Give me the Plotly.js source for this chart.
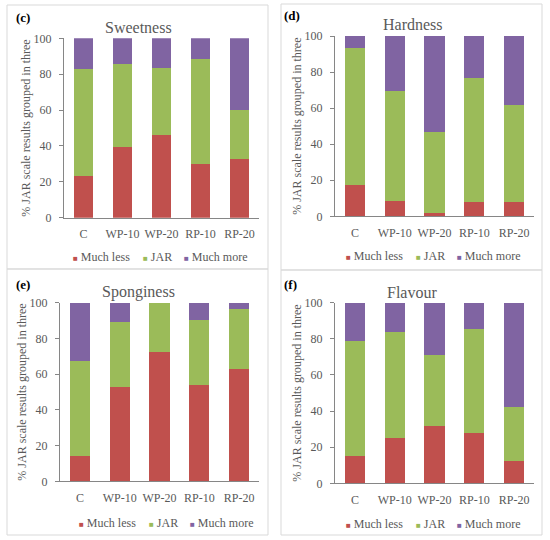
<!DOCTYPE html>
<html>
<head>
<meta charset="utf-8">
<script src="https://cdn.plot.ly/plotly-3.0.1.min.js"></script>
<style>html,body{margin:0;padding:0;background:#fff;}#chart{width:550px;height:540px;}</style>
</head>
<body>
<div id="chart"></div>
<script>
// ---- data ----
const categories = ["C", "WP-10", "WP-20", "RP-10", "RP-20"];
const seriesNames = ["Much less", "JAR", "Much more"];
const panelTitles = ["Sweetness", "Hardness", "Sponginess", "Flavour"];
const panelLabels = ["(c)", "(d)", "(e)", "(f)"];
const yTickValues = [0, 20, 40, 60, 80, 100];

// Sweetness
const sweetLess = [23.2, 39.6, 46.3, 29.9, 32.7];
const sweetJar  = [59.5, 46.3, 37.3, 58.8, 27.2];
const sweetMore = [17.3, 14.1, 16.4, 11.3, 40.1];
// Hardness
const hardLess = [17.4, 8.5, 2.0, 7.8, 7.8];
const hardJar  = [75.9, 60.8, 44.9, 69.1, 53.8];
const hardMore = [6.7, 30.7, 53.1, 23.1, 38.4];
// Sponginess
const spongLess = [14.4, 52.8, 72.2, 53.7, 62.7];
const spongJar  = [52.8, 36.6, 27.8, 36.6, 33.6];
const spongMore = [32.8, 10.6, 0.0, 9.7, 3.7];
// Flavour
const flavLess = [15.3, 24.9, 31.7, 27.9, 12.5];
const flavJar  = [63.7, 58.9, 39.3, 57.7, 29.6];
const flavMore = [21.0, 16.2, 29.0, 14.4, 57.9];

const panelData = [
  [sweetLess, sweetJar, sweetMore],
  [hardLess, hardJar, hardMore],
  [spongLess, spongJar, spongMore],
  [flavLess, flavJar, flavMore]
];

// ---- styling / layout ----
const W = 550, H = 540;
const colors = ["#C0504D", "#9BBB59", "#8064A2"];
const gray = "#595959";
const fontFam = "Liberation Serif, Times New Roman, serif";
const px = v => v / W;
const py = v => 1 - v / H;

// plot areas in pixels: [xLeft, xRight, yTop(100), yBottom(0)]
const areas = [
  [64, 259, 38.3, 217.7],
  [335, 534, 36, 216.3],
  [60, 259, 302.7, 481.3],
  [335, 534, 302.7, 483.3]
];
const boxes = [
  [7, 268, 5, 269],
  [281, 542, 4, 270],
  [7, 268, 269, 535],
  [281, 542, 270, 535]
];
const titlePos = [[138, 28], [413, 25], [138, 292], [412, 292]];
const labelPos = [[14, 18], [282, 15], [14, 284], [282, 284]];
// legend row: [start x, centre y] in pixels, item offsets from start
const legendPos = [[72, 256.7], [345, 255.7], [77.5, 523.3], [345, 524]];
const legendOffsets = [0, 70.3, 111.3];

const traces = [];
const layout = {
  width: W, height: H,
  margin: {l: 0, r: 0, t: 0, b: 0},
  paper_bgcolor: "#fff", plot_bgcolor: "#fff",
  barmode: "stack",
  bargap: 0.49,
  showlegend: false,
  font: {family: fontFam, color: gray, size: 12},
  shapes: [], annotations: []
};

for (let p = 0; p < 4; p++) {
  const suf = p === 0 ? "" : String(p + 1);
  for (let s = 0; s < 3; s++) {
    traces.push({
      type: "bar",
      name: seriesNames[s],
      x: categories,
      y: panelData[p][s],
      xaxis: "x" + suf,
      yaxis: "y" + suf,
      marker: {color: colors[s], line: {width: 0}},
      hoverinfo: "x+y+name"
    });
  }
  const a = areas[p];
  layout["xaxis" + suf] = {
    domain: [px(a[0]), px(a[1])],
    anchor: "y" + suf,
    type: "category",
    showgrid: false, zeroline: false,
    showline: true, linecolor: "#868686", linewidth: 1,
    ticks: "",
    ticklabelstandoff: 5,
    tickfont: {family: fontFam, size: 12, color: gray},
    fixedrange: true
  };
  layout["yaxis" + suf] = {
    domain: [py(a[3]), py(a[2])],
    anchor: "x" + suf,
    range: [0, 100],
    tickvals: yTickValues,
    showgrid: false, zeroline: false,
    showline: true, linecolor: "#868686", linewidth: 1,
    ticks: "outside", ticklen: 4, tickcolor: "#868686",
    ticklabelstandoff: 5,
    tickfont: {family: fontFam, size: 12, color: gray},
    title: {text: "% JAR scale results grouped in three", font: {family: fontFam, size: 12, color: gray}, standoff: 0},
    fixedrange: true
  };
  const b = boxes[p];
  layout.shapes.push({
    type: "rect", xref: "paper", yref: "paper",
    x0: px(b[0]), x1: px(b[1]), y0: py(b[3]), y1: py(b[2]),
    line: {color: "#d9d9d9", width: 1}, fillcolor: "rgba(0,0,0,0)"
  });
  layout.annotations.push({
    xref: "paper", yref: "paper",
    x: px(titlePos[p][0]), y: py(titlePos[p][1]),
    xanchor: "center", yanchor: "middle", showarrow: false,
    text: panelTitles[p],
    font: {family: fontFam, size: 16, color: gray}
  });
  layout.annotations.push({
    xref: "paper", yref: "paper",
    x: px(labelPos[p][0]), y: py(labelPos[p][1]),
    xanchor: "left", yanchor: "middle", showarrow: false,
    text: "<b>" + panelLabels[p] + "</b>",
    font: {family: fontFam, size: 13, color: "#000"}
  });
  // legend row (text entries with coloured square keys)
  for (let s = 0; s < 3; s++) {
    layout.annotations.push({
      xref: "paper", yref: "paper",
      x: px(legendPos[p][0] + legendOffsets[s]), y: py(legendPos[p][1]),
      xanchor: "left", yanchor: "middle", showarrow: false,
      borderpad: 0,
      text: '<span style="font-size:8px;color:' + colors[s] + '">■</span> ' + seriesNames[s],
      font: {family: fontFam, size: 12, color: gray}
    });
  }
}

Plotly.newPlot("chart", traces, layout, {displayModeBar: false, staticPlot: true});
</script>
</body>
</html>
